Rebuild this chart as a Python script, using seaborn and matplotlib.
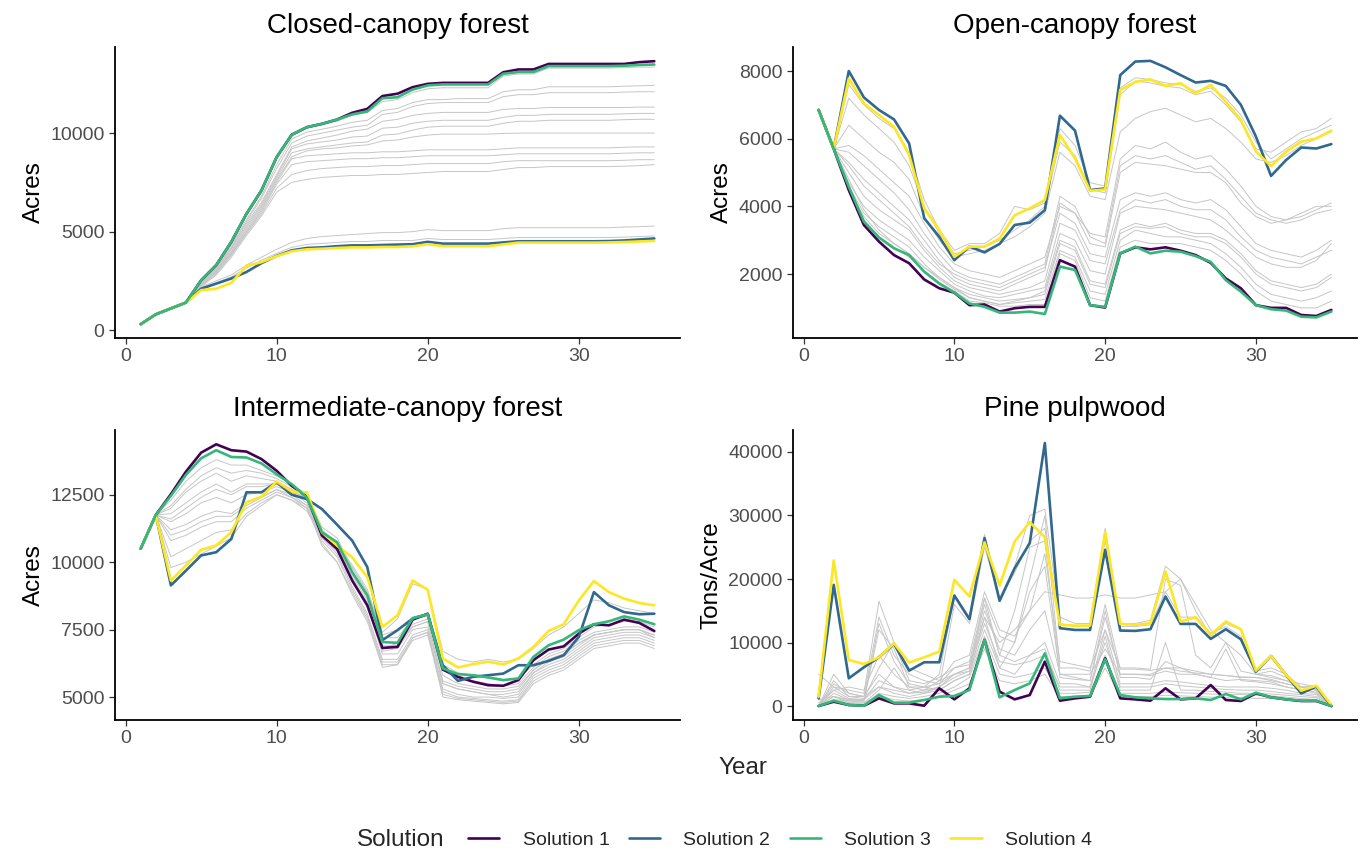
import matplotlib
matplotlib.use("Agg")
import matplotlib.pyplot as plt
import pandas as pd
import seaborn as sns
from matplotlib.lines import Line2D

sns.set_theme(style="ticks")
plt.rcParams["font.family"] = ["Liberation Sans", "DejaVu Sans"]

years = list(range(1, 36))
solutions = ["Solution 1", "Solution 2", "Solution 3", "Solution 4"]
colors = ["#440154", "#31688E", "#35B779", "#FDE725"]

# ---------------- Closed-canopy forest ----------------
closed_s1 = [300,800,1100,1400,2530,3300,4480,5900,7100,8780, 9920,10300,10470,10690,11030,11230,11880,12000,12330,12500,
             12550,12550,12550,12550,13090,13230,13230,13510,13510,13510, 13510,13510,13510,13600,13650]
closed_s2 = [300,800,1100,1400,2100,2360,2620,2950,3400,3770, 4050,4170,4200,4260,4300,4300,4320,4340,4360,4480,
             4390,4390,4390,4390,4450,4510,4510,4510,4510,4510, 4510,4520,4550,4600,4650]
closed_s3 = [300,800,1100,1400,2530,3300,4480,5900,7100,8780, 9920,10300,10470,10690,10950,11100,11770,11820,12210,12420,
             12470,12470,12470,12470,13010,13100,13100,13400,13400,13400, 13400,13400,13420,13460,13480]
closed_s4 = [300,800,1100,1400,2030,2100,2400,3260,3450,3750, 4000,4100,4130,4170,4200,4200,4220,4220,4250,4360,
             4260,4260,4260,4260,4350,4440,4440,4440,4440,4440, 4440,4450,4470,4500,4530]
closed_gray = [
    [300,800,1100,1400,2500,3250,4400,5800,7000,8700,9850,10250,10420,10600,10900,11050,11600,11700,12050,12250,12300,12300,12300,12300,12900,13000,13000,13300,13300,13300,13300,13300,13320,13350,13350],
    [300,800,1100,1400,2450,3200,4300,5600,6800,8400,9700,10050,10200,10350,10550,10650,11150,11250,11550,11700,11700,11750,11750,11750,12100,12200,12200,12350,12350,12350,12350,12350,12380,12400,12420],
    [300,800,1100,1400,2400,3150,4200,5500,6700,8200,9500,9850,10000,10150,10300,10400,10950,11050,11350,11500,11550,11550,11550,11550,11850,11950,11950,12050,12050,12050,12050,12050,12080,12100,12100],
    [300,800,1100,1400,2400,3100,4150,5400,6500,7900,9300,9600,9750,9900,10100,10200,10600,10700,10900,11000,11050,11050,11050,11050,11200,11250,11250,11300,11300,11300,11300,11300,11300,11320,11320],
    [300,800,1100,1400,2350,3050,4100,5300,6400,7800,9200,9450,9550,9650,9800,9850,10250,10300,10500,10600,10650,10650,10650,10650,10800,10900,10900,10950,10950,10950,10950,10950,10980,11000,11000],
    [300,800,1100,1400,2300,3000,4000,5200,6300,7700,9000,9200,9300,9400,9500,9550,9900,9950,10150,10300,10350,10350,10350,10350,10500,10600,10600,10650,10650,10650,10650,10650,10680,10700,10700],
    [300,800,1100,1400,2300,3000,3950,5100,6200,7600,8800,9100,9200,9250,9350,9400,9600,9650,9800,9900,9950,9950,9950,9950,9980,10000,10000,10000,10000,10000,10000,10000,10000,10000,10000],
    [300,800,1100,1400,2300,2950,3900,5000,6100,7500,8700,8850,8900,8950,9000,9000,9050,9050,9100,9150,9150,9150,9150,9150,9200,9250,9250,9250,9250,9250,9250,9250,9280,9300,9300],
    [300,800,1100,1400,2250,2900,3850,4950,6000,7400,8400,8550,8600,8650,8700,8700,8750,8750,8800,8850,8850,8850,8850,8850,8900,8950,8950,8950,8950,8950,8950,8950,8980,9000,9000],
    [300,800,1100,1400,2250,2850,3800,4900,5900,7200,7900,8100,8200,8250,8300,8300,8350,8350,8400,8450,8450,8450,8450,8450,8550,8600,8600,8600,8600,8600,8600,8600,8620,8650,8650],
    [300,800,1100,1400,2200,2800,3700,4800,5800,7000,7500,7650,7750,7800,7850,7850,7900,7900,7950,8000,8050,8050,8050,8050,8150,8250,8250,8300,8300,8300,8300,8300,8320,8350,8400],
    [300,800,1100,1400,2200,2500,2800,3300,3700,4100,4450,4650,4750,4800,4850,4900,4950,4950,5000,5100,5050,5050,5050,5050,5150,5200,5200,5200,5200,5200,5200,5200,5230,5250,5280],
    [300,800,1100,1400,2150,2400,2700,3150,3550,3900,4200,4350,4400,4450,4500,4500,4550,4550,4550,4650,4600,4600,4600,4600,4650,4700,4700,4700,4700,4700,4700,4700,4720,4750,4780],
]

# ---------------- Open-canopy forest ----------------
open_s1 = [6850,5700,4480,3450,2960,2560,2320,1840,1580,1450, 1080,1100,890,990,1030,1030,2410,2220,1080,1010,
           2610,2790,2730,2790,2690,2560,2330,1870,1580,1080, 1000,1000,790,760,940]
open_s2 = [6850,5700,8000,7220,6850,6570,5860,3650,3100,2410, 2810,2640,2890,3450,3520,3890,6680,6240,4480,4530,
           7880,8280,8300,8110,7880,7660,7710,7560,7000,6060, 4900,5370,5740,5710,5840]
open_s3 = [6850,5700,4580,3550,3080,2760,2560,2070,1720,1450, 1130,1030,860,860,890,820,2220,2120,1080,1030,
           2610,2810,2610,2690,2660,2530,2360,1820,1480,1080, 960,920,740,720,890]
open_s4 = [6850,5700,7780,7040,6700,6350,5520,3940,3300,2510, 2810,2810,3050,3740,3940,4190,6110,5420,4460,4500,
           7440,7680,7750,7560,7640,7340,7590,7090,6550,5620, 5190,5620,5910,6010,6240]
open_gray = [
    [6850,5700,7600,7000,6600,6300,5600,4200,3300,2700,2900,2900,3200,4000,3900,4100,6300,5800,4700,4600,7500,7800,7750,7650,7600,7400,7500,7200,6700,5900,5400,5700,6000,6200,6400],
    [6850,5700,7200,6700,6300,5900,5200,4000,3200,2600,2700,2800,3000,3300,3600,4000,5900,5500,4500,4400,7300,7700,7650,7550,7500,7300,7400,7000,6500,5700,5600,5900,6200,6300,6600],
    [6850,5700,6400,6000,5600,5300,4800,3700,3000,2500,2600,2700,2900,3100,3400,3800,5600,5200,4300,4200,6200,6600,6800,6900,6700,6500,6600,6300,5900,5400,5300,5500,5800,6000,6200],
    [6850,5700,5800,5500,5100,4700,4300,3500,2800,2300,2100,2000,1900,2100,2300,2500,4000,3800,3200,3100,5400,5800,5700,5900,5600,5400,5500,5100,4600,4000,3700,3600,3800,4000,4000],
    [6850,5700,5600,5200,4800,4400,3900,3200,2600,2100,1900,1800,1700,1900,2100,2300,4300,4000,3100,2900,5200,5500,5400,5500,5300,5100,5200,4800,4300,3800,3600,3500,3600,3800,3900],
    [6850,5700,5300,4800,4400,4000,3600,3000,2400,1900,1700,1600,1500,1700,1900,2100,4100,3800,2900,2800,5000,5300,5250,5200,5100,5000,5000,4700,4100,3700,3500,3600,3700,3900,4100],
    [6850,5700,5200,4600,4200,3800,3400,2800,2300,2000,1800,1700,1600,1800,2000,2200,3800,3500,2600,2500,4200,4400,4300,4400,4200,4100,4200,3900,3400,2900,2700,2600,2500,2700,3000],
    [6850,5700,5000,4300,3900,3600,3300,2700,2200,1800,1600,1500,1400,1500,1600,1800,3500,3300,2400,2300,3900,4200,4100,4200,4000,3900,3900,3600,3100,2700,2500,2400,2300,2500,2700],
    [6850,5700,4700,4000,3600,3300,3000,2500,2100,1700,1500,1350,1300,1400,1500,1600,3200,3000,2100,2000,3800,4000,3950,3900,3800,3700,3600,3300,2900,2500,2300,2200,2200,2400,2900],
    [6850,5700,4600,3800,3400,3100,2800,2300,1900,1600,1400,1300,1200,1250,1300,1400,2900,2700,1700,1600,3200,3400,3350,3400,3200,3100,3100,2900,2500,2000,1700,1600,1500,1600,1900],
    [6850,5700,4500,3700,3200,2900,2600,2200,1900,1600,1300,1200,1100,1200,1300,1500,3000,2800,1800,1700,3300,3500,3400,3500,3300,3200,3200,3000,2600,2100,1800,1700,1600,1700,2000],
    [6850,5700,4800,3900,3300,2900,2600,2200,1850,1550,1300,1200,1100,1150,1200,1250,2700,2500,1500,1400,3000,3300,3200,3100,3100,3000,2900,2600,2200,1700,1400,1300,1200,1300,1500],
    [6850,5700,4500,3600,3100,2800,2500,2100,1750,1500,1200,1150,1050,1050,1100,1100,2600,2400,1300,1200,2800,3000,2900,2900,2900,2800,2700,2400,2000,1500,1200,1100,1000,1000,1200],
]

# ---------------- Intermediate-canopy forest ----------------
inter_s1 = [10500,11750,12520,13360,14060,14370,14150,14100,13820,13390, 12830,12430,10990,10490,9320,8400,6820,6860,7870,8090,
            6020,5750,5570,5440,5420,5630,6370,6760,6880,7350, 7700,7660,7870,7750,7450]
inter_s2 = [10500,11750,9140,9690,10250,10370,10860,12590,12590,12960, 12500,12340,11970,11390,10800,9820,7110,7480,7910,8070,
            6180,5600,5750,5810,5870,6180,6180,6340,6550,7230, 8890,8400,8150,8070,8090]
inter_s3 = [10500,11750,12460,13240,13850,14150,13900,13880,13660,13260, 12890,12400,11110,10740,9630,8770,7040,7010,7930,8070,
            6060,5850,5810,5730,5630,5690,6490,6920,7130,7480, 7700,7810,7990,7870,7700]
inter_s4 = [10500,11750,9320,9880,10460,10620,11110,12220,12430,12990, 12620,12590,11110,10620,10180,9450,7600,8030,9320,8980,
            6430,6100,6220,6310,6210,6430,6860,7450,7700,8580, 9300,8890,8650,8490,8400]
inter_gray = [
    [10500,11750,12300,13000,13500,13800,13600,13600,13400,13200,12900,12500,11300,10900,9800,8900,7200,7200,7900,8000,6000,5700,5600,5500,5400,5500,6100,6500,6700,7100,7400,7500,7600,7600,7400],
    [10500,11750,12100,12700,13200,13500,13300,13400,13300,13100,12800,12400,11100,10600,9500,8600,6700,6800,7600,7800,5600,5400,5300,5200,5200,5300,6000,6400,6600,7000,7300,7400,7500,7500,7200],
    [10500,11750,12000,12600,13000,13300,13000,13200,13100,13000,12700,12300,11200,10700,9600,8700,6900,6900,7700,7900,5800,5500,5400,5300,5300,5400,6000,6400,6600,7000,7300,7400,7500,7500,7300],
    [10500,11750,11800,12200,12600,12900,12600,12900,12900,12900,12700,12300,11000,10500,9300,8400,6600,6600,7500,7600,5500,5300,5200,5100,5100,5200,5900,6200,6400,6800,7200,7300,7400,7400,7200],
    [10500,11750,11500,11800,12200,12400,12200,12500,12600,12800,12600,12200,10900,10300,9100,8100,6400,6400,7300,7500,5300,5100,5000,5000,4950,5000,5800,6100,6300,6700,7100,7200,7300,7300,7100],
    [10500,11750,11200,11400,11700,11900,11800,12200,12400,12700,12500,12100,10800,10200,9000,8000,6300,6300,7200,7400,5200,5000,4950,4900,4850,4900,5700,6000,6200,6600,7000,7100,7200,7200,7000],
    [10500,11750,11000,11200,11500,11700,11700,12100,12400,12700,12400,12100,10600,10000,8900,7900,6200,6200,7200,7400,5000,4900,4850,4800,4750,4800,5500,5800,6000,6400,6800,6900,7000,7000,6800],
    [10500,11750,10800,11000,11300,11500,11500,12000,12300,12600,12400,12000,10700,10000,8800,7800,6100,6200,7100,7300,5100,4950,4900,4850,4800,4850,5600,5900,6100,6500,6900,7000,7100,7100,6900],
    [10500,11750,10200,10500,10800,11100,11200,11800,12200,12500,12300,11900,10900,10400,9400,8500,6800,7000,7600,7800,5500,5300,5200,5100,5000,5100,5900,6300,6500,6900,7300,7400,7500,7500,7300],
    [10500,11750,9800,10000,10300,10600,10900,11700,12100,12500,12300,12000,11000,10600,9900,9000,7300,7500,7900,8100,6200,5900,5800,5700,5600,5700,6200,6600,6800,7200,7600,7700,7800,7800,7600],
    [10500,11750,11600,12000,12400,12700,12500,12800,12800,12900,12600,12400,11100,10600,9800,8900,7400,7900,9200,9000,6700,6400,6300,6400,6300,6400,6800,7300,7600,8100,8600,8500,8300,8200,8100],
]

# ---------------- Pine pulpwood ----------------
pulp_s1 = [0,680,160,50,1210,420,420,50,2790,1050, 2790,10410,2260,1050,1730,6990,840,1210,1470,7520,
           1210,1050,840,2790,1050,1210,3310,950,790,2000, 1370,1050,790,790,0]
pulp_s2 = [1200,19080,4360,6100,7670,9780,5570,6890,6890,17400, 13670,26440,16560,21710,25650,41420,12250,11980,11980,24600,
           11880,11830,12090,17240,12930,12930,10570,12090,10510,5410, 7880,4890,2000,3050,0]
pulp_s3 = [0,840,160,50,1730,530,530,950,1470,1580, 2520,10410,1370,2520,3570,8300,1210,1470,1580,7360,
           1730,1370,1210,1100,1100,1210,950,1890,1050,2100, 1370,1050,840,840,0]
pulp_s4 = [1470,22920,7250,6620,7670,9880,6830,7670,8570,19870, 17240,25760,18970,25910,28960,26600,12770,12670,12670,27390,
           12930,12770,13040,21180,13300,13980,11200,13300,12090,5570, 7880,4890,2420,3210,160]
pulp_gray = [
    [0,2000,1000,800,12000,9000,3000,2500,3000,5000,6000,15000,9000,8000,12000,15000,5000,4500,4000,14000,5000,5000,4800,5500,5000,5000,4500,4000,4200,4000,3800,3000,2500,2000,0],
    [5000,3000,1500,1500,14000,8000,5000,4000,3500,6000,7000,17000,11000,10000,20000,30000,6000,6000,5500,16000,5800,5800,5600,6000,6000,5500,5000,4800,4500,4500,4000,3500,3000,2500,0],
    [0,5000,2000,1500,3000,2500,2000,2500,4000,5000,5500,13000,7000,6500,7000,8000,3000,3000,3000,10000,3000,3000,3000,3500,3200,3000,2800,2600,2500,2500,2300,2000,1800,1500,0],
    [1000,1500,500,300,2000,1500,1200,1500,2000,3000,4500,11000,5000,4500,5000,6000,2000,2000,2200,8000,2000,2000,2000,2200,2100,2000,1900,1800,1800,1700,1600,1400,1200,1000,0],
    [0,3000,2500,2000,16500,10000,6000,5000,4000,7000,8000,18000,12000,11000,15000,24000,7000,6500,6000,12000,6000,6000,5800,20000,19000,8000,6000,10000,5500,5000,4800,4000,3500,3000,0],
    [500,2500,3000,2500,8000,5000,3000,3000,5000,17500,14000,27000,17000,22000,30000,31000,14000,13000,13000,28000,13000,13000,13500,22000,20000,15000,11000,13000,12000,5500,6000,5000,3000,3200,0],
    [0,3500,2000,1500,5000,3000,2000,2200,3000,16000,13000,25000,17000,21000,26000,28000,13000,12500,12500,26000,12500,12500,12800,18000,14000,14000,11500,12500,11000,5000,5500,4500,2500,3000,0],
    [0,1500,1000,1000,4000,3000,2500,3000,3500,5000,6000,14000,10000,12000,15000,18000,17500,17000,17000,17500,17000,17000,17500,18000,20000,16000,12000,10000,8000,5000,4500,4000,3000,2500,0],
    [0,1000,800,600,1500,1000,800,1000,1500,2500,3500,9000,4000,3500,4000,5000,1500,1500,1600,6000,1500,1500,1500,1700,1600,1500,1400,1300,1300,1200,1200,1100,900,800,0],
    [0,4000,1500,1200,6000,10000,4000,3500,4500,6000,6500,16000,8000,15000,25000,26000,4500,4200,4000,15000,4500,4500,4200,7000,6000,5000,4500,9000,4000,3800,3500,3000,2600,2200,0],
    [0,1500,800,800,13000,7000,3500,3000,2500,4000,5000,14000,6000,5000,8000,10000,3500,3500,3000,12000,3500,3500,3500,4000,3800,3500,3200,3000,3000,3000,2800,2500,2000,1800,0],
    [0,2500,1200,1000,3000,2000,1500,2000,2500,4000,5000,12000,6000,10000,18000,22000,5000,5000,5000,9000,5000,5000,5000,6000,5500,5200,5000,4800,4600,4500,4200,3500,3000,2500,0],
    [0,1000,500,500,2500,6000,2500,2000,3000,4500,5500,17000,8000,7000,8000,9000,2500,2500,2500,11000,2500,2500,2500,10000,2500,2500,2300,2200,2000,2000,1900,1700,1500,1300,0],
]

panels = [
    ("Closed-canopy forest", "Acres", [closed_s1, closed_s2, closed_s3, closed_s4], closed_gray,
     (-400, 14370), [0, 5000, 10000], [115, 47, 680, 338]),
    ("Open-canopy forest", "Acres", [open_s1, open_s2, open_s3, open_s4], open_gray,
     (110, 8710), [2000, 4000, 6000, 8000], [793, 47, 1357, 338]),
    ("Intermediate-canopy forest", "Acres", [inter_s1, inter_s2, inter_s3, inter_s4], inter_gray,
     (4150, 14900), [5000, 7500, 10000, 12500], [115, 430, 680, 720]),
    ("Pine pulpwood", "Tons/Acre", [pulp_s1, pulp_s2, pulp_s3, pulp_s4], pulp_gray,
     (-2200, 43460), [0, 10000, 20000, 30000, 40000], [793, 430, 1357, 720]),
]

W, H = 1363, 851
fig = plt.figure(figsize=(W / 100, H / 100), dpi=100)
palette = dict(zip(solutions, colors))
draw_order = ["Solution 1", "Solution 2", "Solution 4", "Solution 3"]

for title, ylabel, sols, grays, ylim, yticks, (x0, y0, x1, y1) in panels:
    ax = fig.add_axes([x0 / W, 1 - y1 / H, (x1 - x0) / W, (y1 - y0) / H])
    gdf = pd.DataFrame([{"Year": yr, "Value": v, "Run": i}
                        for i, g in enumerate(grays) for yr, v in zip(years, g)])
    sns.lineplot(data=gdf, x="Year", y="Value", units="Run", estimator=None,
                 color="#c6c6c6", lw=0.7, ax=ax, legend=False)
    sdf = pd.DataFrame([{"Year": yr, "Value": v, "Solution": s}
                        for s, vals in zip(solutions, sols) for yr, v in zip(years, vals)])
    sns.lineplot(data=sdf, x="Year", y="Value", hue="Solution", hue_order=draw_order,
                 palette=palette, estimator=None, lw=1.9, ax=ax, legend=False)
    ax.set_xlim(-0.7, 36.7)
    ax.set_ylim(*ylim)
    ax.set_xticks([0, 10, 20, 30])
    ax.set_yticks(yticks)
    ax.set_xlabel("")
    ax.set_ylabel(ylabel, fontsize=17.5, color="black")
    ax.set_title(title, fontsize=20, pad=10, color="black")
    sns.despine(ax=ax)
    for sp in ("left", "bottom"):
        ax.spines[sp].set_linewidth(1.3)
        ax.spines[sp].set_color("black")
    ax.tick_params(axis="both", labelsize=14, labelcolor="#4d4d4d", color="#333333",
                   length=4, width=0.9)

fig.text(0.545, 1 - 768 / H, "Year", fontsize=17.5, ha="center", va="center")

handles = [Line2D([0], [0], color=c, lw=1.9) for c in colors]
fig.text(357 / W, 1 - 840 / H, "Solution", fontsize=17.5, ha="left", va="center")
fig.legend(handles, solutions, loc="center", bbox_to_anchor=(780 / W, 1 - 840 / H),
           ncol=4, frameon=False, fontsize=14, handlelength=1.6, handletextpad=1.2,
           columnspacing=1.0)

fig.savefig("out.png", dpi=100)
